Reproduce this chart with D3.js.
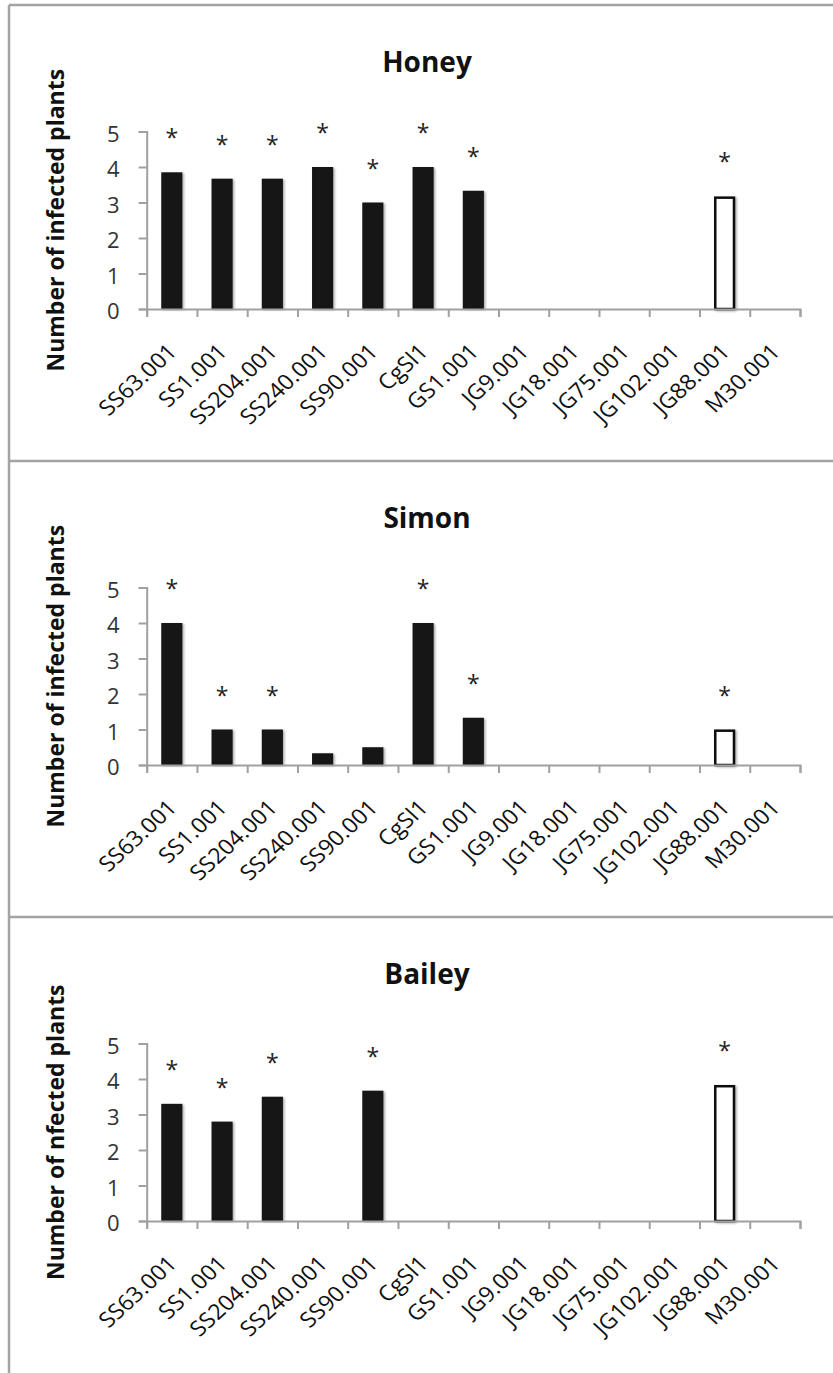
<!DOCTYPE html>
<html>
<head>
<meta charset="utf-8">
<script src="https://cdn.jsdelivr.net/npm/d3@7"></script>
<style>
  html, body { margin: 0; padding: 0; background: #fff; }
  svg { display: block; }
</style>
</head>
<body>
<svg id="chart" width="833" height="1373"></svg>
<script>
// ---------- data ----------
const categories = ["SS63.001","SS1.001","SS204.001","SS240.001","SS90.001","CgSl1","GS1.001",
                    "JG9.001","JG18.001","JG75.001","JG102.001","JG88.001","M30.001"];
const controlCategory = "JG88.001";
const yTicks = [0, 1, 2, 3, 4, 5];

const panelTitles = ["Honey", "Simon", "Bailey"];
const yAxisTitles = ["Number of infected plants", "Number of infected plants", "Number of nfected plants"];

const honeyValues  = [3.85, 3.67, 3.67, 4, 3, 4, 3.33, 0, 0, 0, 0, 3.17, 0];
const simonValues  = [4, 1, 1, 0.33, 0.5, 4, 1.33, 0, 0, 0, 0, 1, 0];
const baileyValues = [3.3, 2.8, 3.5, 0, 3.67, 0, 0, 0, 0, 0, 0, 3.83, 0];

const honeySignificant  = [1,1,1,1,1,1,1,0,0,0,0,1,0];
const simonSignificant  = [1,1,1,0,0,1,1,0,0,0,0,1,0];
const baileySignificant = [1,1,1,0,1,0,0,0,0,0,0,1,0];

const seriesValues = [honeyValues, simonValues, baileyValues];
const seriesSignificant = [honeySignificant, simonSignificant, baileySignificant];

// ---------- layout ----------
const svg = d3.select("#chart");
const FONT = "'Open Sans', 'DejaVu Sans', sans-serif";
const panelTops = [5, 461, 917];
const frameColor = "#a3a3a3";
const axisColor = "#a0a0a0";

const defs = svg.append("defs");
const f = defs.append("filter").attr("id", "shadow").attr("x", "-30%").attr("y", "-10%").attr("width", "160%").attr("height", "130%");
f.append("feDropShadow").attr("dx", 1.5).attr("dy", 1).attr("stdDeviation", 1.3)
  .attr("flood-color", "#000").attr("flood-opacity", 0.35);

// frame lines
svg.append("line").attr("x1", 9).attr("x2", 9).attr("y1", 5).attr("y2", 1373)
  .attr("stroke", frameColor).attr("stroke-width", 2.5);
panelTops.forEach(t => {
  svg.append("line").attr("x1", 9).attr("x2", 833).attr("y1", t).attr("y2", t)
    .attr("stroke", frameColor).attr("stroke-width", 2.5);
});

const x = d3.scaleBand().domain(categories).range([146.7, 800]).paddingInner(0.58).paddingOuter(0.29);
const xb = d3.scaleLinear().domain([0, categories.length]).range([146.7, 800]);
const y = d3.scaleLinear().domain([0, 5]).range([304, 126.5]);

panelTops.forEach((top, p) => {
  const g = svg.append("g").attr("transform", `translate(0,${top})`);

  // panel title
  g.append("text").attr("x", 427).attr("y", 67).attr("text-anchor", "middle")
    .attr("font-family", FONT).attr("font-weight", "bold").attr("font-size", 28)
    .attr("fill", "#111").text(panelTitles[p]);

  // y axis title
  g.append("text").attr("transform", `translate(64,${(y(0) + y(5)) / 2}) rotate(-90)`)
    .attr("text-anchor", "middle")
    .attr("font-family", FONT).attr("font-weight", "bold").attr("font-size", 23)
    .attr("fill", "#111").text(yAxisTitles[p]);

  const vals = seriesValues[p];
  const sig = seriesSignificant[p];
  const data = categories.map((c, i) => ({ c, v: vals[i], s: sig[i] }));

  // bars
  g.append("g").selectAll("rect").data(data.filter(d => d.v > 0)).join("rect")
    .attr("x", d => x(d.c) + (d.c === controlCategory ? 1.2 : 0))
    .attr("width", d => x.bandwidth() - (d.c === controlCategory ? 2.4 : 0))
    .attr("y", d => y(d.v) + (d.c === controlCategory ? 1.2 : 0))
    .attr("height", d => y(0) - y(d.v) - (d.c === controlCategory ? 1.2 : 0))
    .attr("fill", d => d.c === controlCategory ? "#fff" : "#141414")
    .attr("stroke", d => d.c === controlCategory ? "#111" : "none")
    .attr("stroke-width", 2.5)
    .attr("filter", "url(#shadow)");

  // significance asterisks
  g.append("g").selectAll("text").data(data.filter(d => d.s)).join("text")
    .attr("x", d => x(d.c) + x.bandwidth() / 2)
    .attr("y", d => y(d.v) - 26)
    .attr("text-anchor", "middle")
    .attr("font-family", FONT).attr("font-size", 23).attr("fill", "#222")
    .text("*");

  // y axis
  const ya = g.append("g").attr("transform", `translate(146.7,0)`)
    .call(d3.axisLeft(y).tickValues(yTicks).tickFormat(d3.format("d")).tickSize(8).tickPadding(19));
  ya.select(".domain").attr("stroke", axisColor).attr("stroke-width", 2);
  ya.selectAll(".tick line").attr("stroke", axisColor).attr("stroke-width", 2);
  ya.selectAll(".tick text").attr("font-family", FONT).attr("font-size", 22).attr("fill", "#333")
    .attr("dy", "0.45em");

  // x axis line with boundary ticks
  const xa = g.append("g").attr("transform", `translate(0,${y(0)})`)
    .call(d3.axisBottom(xb).tickValues(d3.range(categories.length + 1)).tickSize(8).tickFormat(""));
  xa.select(".domain").attr("stroke", axisColor).attr("stroke-width", 2);
  xa.selectAll(".tick line").attr("stroke", axisColor).attr("stroke-width", 2);

  // x category labels
  const xl = g.append("g").attr("transform", `translate(0,${y(0)})`)
    .call(d3.axisBottom(x).tickSize(0).tickPadding(0));
  xl.select(".domain").remove();
  xl.selectAll(".tick text")
    .attr("font-family", FONT).attr("font-size", 21.5).attr("fill", "#111")
    .attr("text-anchor", "end")
    .attr("x", 0).attr("y", 0).attr("dy", 0)
    .attr("transform", "translate(6.5,44) scale(1.09,1) rotate(-45)");
});
</script>
</body>
</html>
